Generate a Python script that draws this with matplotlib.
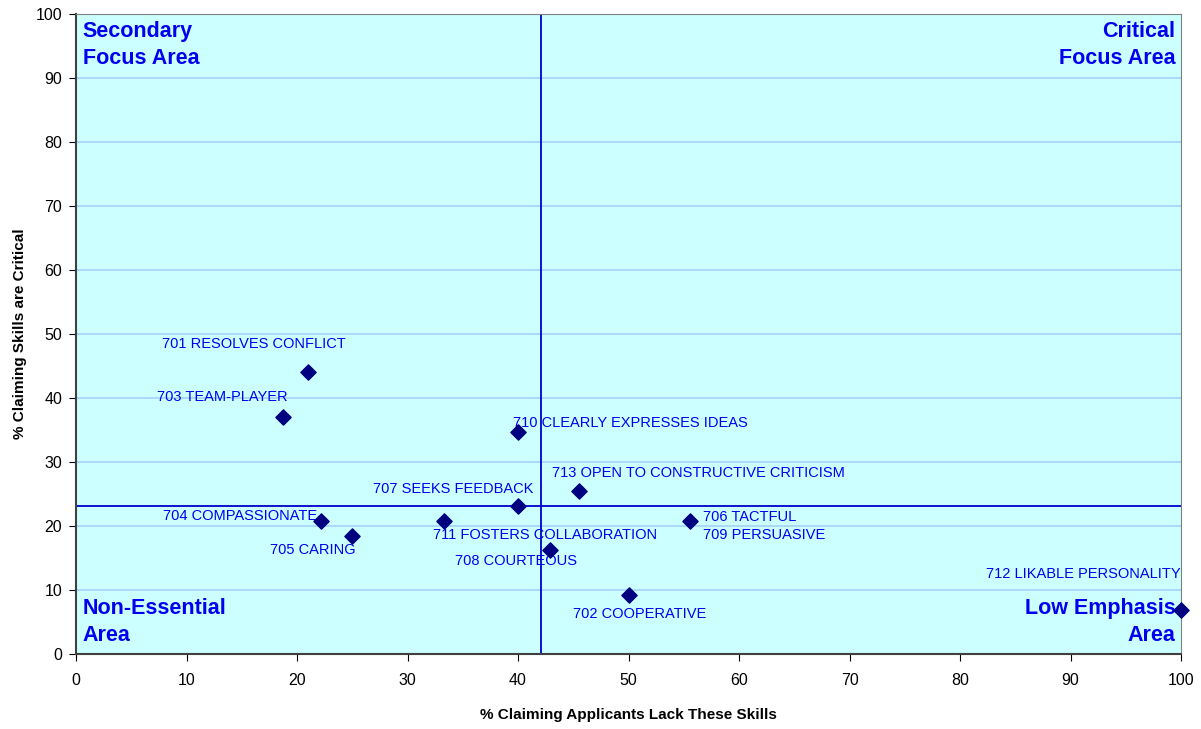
import numpy as np
import matplotlib.pyplot as plt

# skill data: % lacking (x) vs % critical (y)
skills = ["701 RESOLVES CONFLICT", "703 TEAM-PLAYER", "710 CLEARLY EXPRESSES IDEAS",
          "713 OPEN TO CONSTRUCTIVE CRITICISM", "707 SEEKS FEEDBACK", "704 COMPASSIONATE",
          "705 CARING", "711 FOSTERS COLLABORATION", "708 COURTEOUS",
          "706 TACTFUL\n709 PERSUASIVE", "702 COOPERATIVE", "712 LIKABLE PERSONALITY"]
lack = [21.0, 18.7, 40.0, 45.5, 40.0, 22.2, 25.0, 33.3, 42.9, 55.6, 50.0, 100.0]
critical = [44.1, 37.1, 34.7, 25.5, 23.2, 20.8, 18.5, 20.8, 16.2, 20.8, 9.2, 6.8]
mean_lack = 42.1
mean_critical = 23.2

# label offsets in pixels (dx, dy) and alignment
offsets = [(-54, 28, 'center'), (-60, 20, 'center'), (-5, 9, 'left'),
           (-27, 18, 'left'), (15, 17, 'right'), (-4, 5, 'right'),
           (3, -14, 'right'), (-11, -14, 'left'), (-95, -11, 'left'),
           (13, -5, 'left'), (11, -19, 'center'), (0, 36, 'right')]

plt.rcParams['font.family'] = ['Liberation Sans', 'DejaVu Sans']
fig = plt.figure(figsize=(12.01, 7.29), dpi=100)
ax = fig.add_axes([0.0633, 0.1029, 0.9201, 0.8779])
ax.set_facecolor('#CCFFFF')
ax.set_xlim(0, 100)
ax.set_ylim(0, 100)
ax.set_xticks(np.arange(0, 101, 10))
ax.set_yticks(np.arange(0, 101, 10))
ax.yaxis.grid(True, color='#A6D2F5', lw=1.2)
ax.set_axisbelow(True)
for s in ['top', 'right']:
    ax.spines[s].set_color('#808080')
for s in ['left', 'bottom']:
    ax.spines[s].set_color('#404040')
    ax.spines[s].set_linewidth(1.5)
ax.tick_params(labelsize=11.5, length=5, direction='out')
ax.tick_params(axis='x', pad=9)
ax.tick_params(axis='y', pad=5)

ax.axvline(mean_lack, color='#0000CC', lw=1.3)
ax.axhline(mean_critical, color='#0000CC', lw=1.3)

ax.scatter(lack, critical, marker='D', s=60, color='#000080', zorder=5, clip_on=False)

for name, x, y, (dx, dy, ha) in zip(skills, lack, critical, offsets):
    ax.annotate(name, (x, y), xytext=(dx, dy), textcoords='offset pixels',
                ha=ha, va='center', fontsize=10.5, color='#0000EE', linespacing=1.3)

qkw = dict(fontsize=15.5, fontweight='bold', color='#0000EE', transform=ax.transAxes,
           linespacing=1.4)
ax.text(0.006, 0.989, "Secondary\nFocus Area", ha='left', va='top', **qkw)
ax.text(0.995, 0.989, "Critical\nFocus Area", ha='right', va='top', **qkw)
ax.text(0.006, 0.012, "Non-Essential\nArea", ha='left', va='bottom', **qkw)
ax.text(0.995, 0.012, "Low Emphasis\nArea", ha='right', va='bottom', **qkw)

ax.set_xlabel("% Claiming Applicants Lack These Skills", fontsize=11, fontweight='bold', labelpad=14)
ax.set_ylabel("% Claiming Skills are Critical", fontsize=11, fontweight='bold', labelpad=6)

fig.savefig("out.png", dpi=100)
